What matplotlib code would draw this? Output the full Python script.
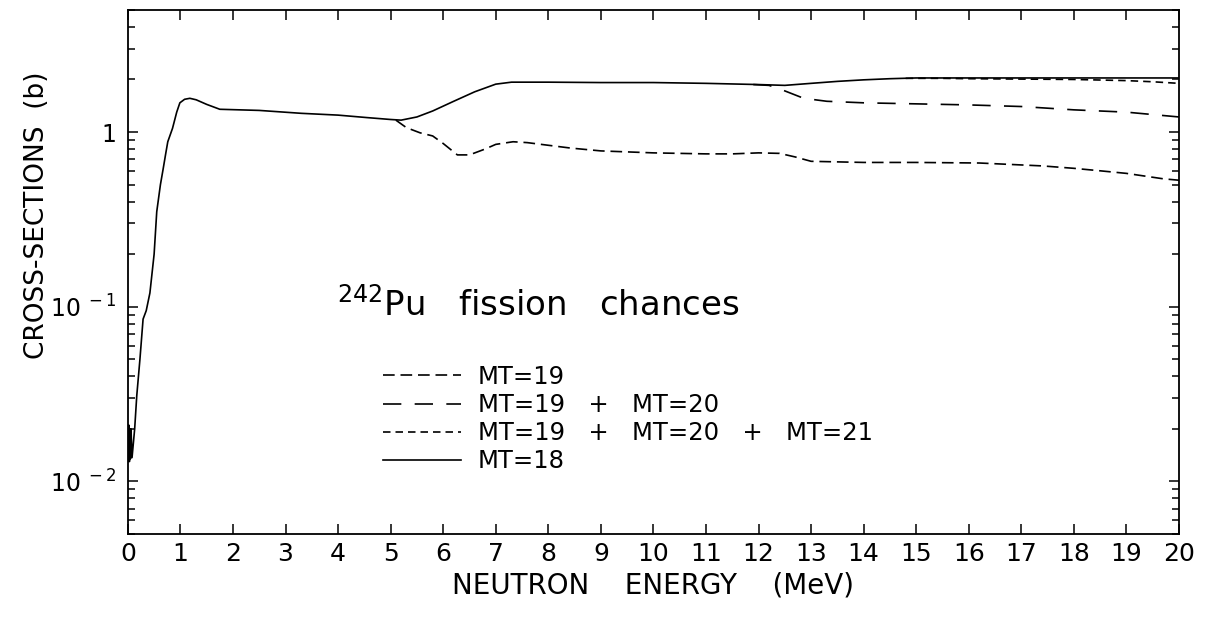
import matplotlib
matplotlib.use("Agg")
import matplotlib.pyplot as plt
from matplotlib.ticker import FixedLocator, FixedFormatter, LogLocator, NullFormatter

# total fission MT=18
e18 = [0.0, 0.01, 0.02, 0.03, 0.04, 0.05, 0.06, 0.08, 0.13, 0.17, 0.23, 0.29, 0.35,
       0.42, 0.5, 0.55, 0.62, 0.67, 0.72, 0.76, 0.85, 0.93, 0.99, 1.08, 1.18, 1.3,
       1.5, 1.75, 2.5, 3.3, 4.0, 4.55, 5.0, 5.2, 5.5, 5.8, 6.2, 6.6, 7.0, 7.3, 8.0,
       9.0, 10.0, 11.0, 12.0, 12.5, 13.0, 13.5, 14.0, 14.5, 15.0, 16.0, 17.0, 18.0,
       19.0, 20.0]
s18 = [0.021, 0.013, 0.021, 0.013, 0.02, 0.0135, 0.02, 0.0137, 0.02, 0.031, 0.05,
       0.085, 0.095, 0.12, 0.2, 0.35, 0.5, 0.61, 0.75, 0.88, 1.05, 1.3, 1.47, 1.54,
       1.56, 1.53, 1.44, 1.35, 1.33, 1.28, 1.25, 1.21, 1.18, 1.17, 1.22, 1.32, 1.5,
       1.7, 1.88, 1.93, 1.93, 1.92, 1.92, 1.9, 1.87, 1.85, 1.9, 1.95, 1.99, 2.02,
       2.04, 2.04, 2.04, 2.04, 2.04, 2.04]

# first chance MT=19
e19 = [5.1, 5.3, 5.56, 5.8, 6.0, 6.27, 6.5, 6.8, 7.0, 7.33, 7.6, 8.0, 8.42, 9.0,
       10.0, 11.0, 11.5, 12.0, 12.4, 12.7, 13.0, 14.0, 15.0, 16.2, 17.4, 18.0,
       18.5, 19.0, 19.7, 20.0]
s19 = [1.17, 1.06, 0.99, 0.95, 0.86, 0.74, 0.74, 0.8, 0.85, 0.88, 0.87, 0.84, 0.81,
       0.78, 0.76, 0.75, 0.75, 0.76, 0.755, 0.72, 0.68, 0.67, 0.67, 0.665, 0.64,
       0.62, 0.60, 0.58, 0.54, 0.53]

# MT=19 + MT=20
e1920 = [11.9, 12.2, 12.5, 12.86, 13.3, 14.0, 15.0, 16.0, 17.0, 18.0, 19.0, 20.0]
s1920 = [1.87, 1.85, 1.72, 1.56, 1.5, 1.47, 1.45, 1.43, 1.40, 1.34, 1.30, 1.22]

# MT=19 + MT=20 + MT=21
e21 = [14.8, 15.5, 16.0, 17.0, 18.0, 19.0, 19.5, 20.0]
s21 = [2.03, 2.03, 2.02, 2.01, 2.0, 1.97, 1.94, 1.90]

ytick_vals = [0.01, 0.1, 1]
ytick_text = [r"$\mathregular{10^{\ -2}}$", r"$\mathregular{10^{\ -1}}$", "1"]

plt.rcParams["font.family"] = "DejaVu Sans"
plt.rcParams["mathtext.fontset"] = "dejavusans"

fig = plt.figure(figsize=(12.06, 6.21), dpi=100)
ax = fig.add_axes([0.106, 0.140, 0.8716, 0.844])

lw = 1.2
l19, = ax.plot(e19, s19, color="black", lw=lw, dashes=(7, 3.5))
l1920, = ax.plot(e1920, s1920, color="black", lw=lw, dashes=(11, 8))
l21, = ax.plot(e21, s21, color="black", lw=lw, dashes=(4.5, 3))
l18, = ax.plot(e18, s18, color="black", lw=lw)

ax.set_yscale("log")
ax.set_xlim(0, 20)
ax.set_ylim(0.005, 5)
ax.set_xticks(range(21))
ax.yaxis.set_major_locator(FixedLocator(ytick_vals))
ax.yaxis.set_major_formatter(FixedFormatter(ytick_text))
ax.yaxis.set_minor_locator(LogLocator(base=10, subs=range(2, 10)))
ax.yaxis.set_minor_formatter(NullFormatter())

ax.tick_params(which="both", direction="in", top=True, right=True, width=1.1)
ax.tick_params(which="major", length=7, labelsize=18, pad=6)
ax.tick_params(axis="y", which="major", labelsize=17, pad=8)
ax.tick_params(which="minor", length=5)
for sp in ax.spines.values():
    sp.set_linewidth(1.3)

ax.set_xlabel("NEUTRON    ENERGY    (MeV)", fontsize=20, labelpad=4)
ax.set_ylabel("CROSS-SECTIONS  (b)", fontsize=19)
ax.yaxis.set_label_coords(-0.074, 0.609)

ax.text(0.199, 0.437, r"$^{242}$Pu   fission   chances", transform=ax.transAxes,
        fontsize=24.5, va="center", ha="left")

ax.legend([l19, l1920, l21, l18],
          ["MT=19", "MT=19   +   MT=20", "MT=19   +   MT=20   +   MT=21", "MT=18"],
          loc="upper left", bbox_to_anchor=(383 / 1206, 1 - 365 / 621),
          bbox_transform=fig.transFigure, frameon=False, fontsize=17.5,
          borderpad=0, borderaxespad=0, handlelength=3.2, handletextpad=0.7,
          labelspacing=0.17)

fig.savefig("out.png", dpi=100)
